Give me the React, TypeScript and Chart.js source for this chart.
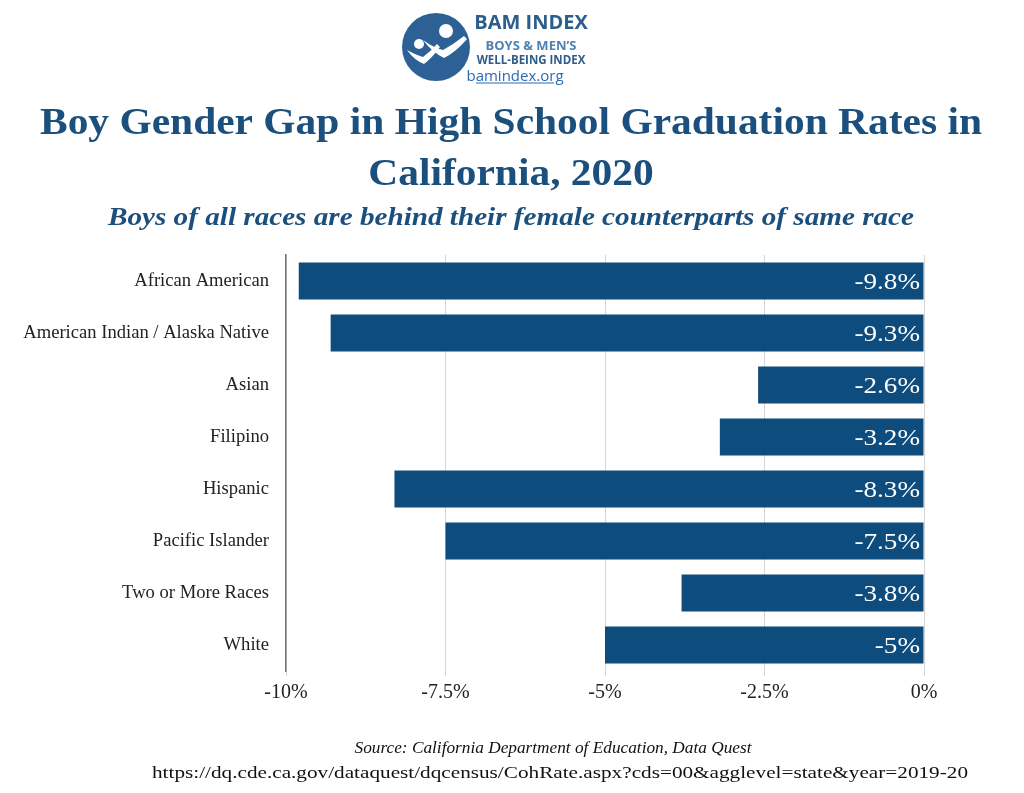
import React, { useEffect, useRef } from "react";
import { Chart, registerables } from "chart.js";

Chart.register(...registerables);

const categories = [
  "African American",
  "American Indian / Alaska Native",
  "Asian",
  "Filipino",
  "Hispanic",
  "Pacific Islander",
  "Two or More Races",
  "White",
];
const values = [-9.8, -9.3, -2.6, -3.2, -8.3, -7.5, -3.8, -5];
const valueLabels = ["-9.8%", "-9.3%", "-2.6%", "-3.2%", "-8.3%", "-7.5%", "-3.8%", "-5%"];
const xMin = -10;
const xMax = 0;
const xStep = 2.5;

const titleLines = ["Boy Gender Gap in High School Graduation Rates in", "California, 2020"];
const subtitleText = "Boys of all races are behind their female counterparts of same race";
const sourceText = "Source: California Department of Education, Data Quest";
const urlText = "https://dq.cde.ca.gov/dataquest/dqcensus/CohRate.aspx?cds=00&agglevel=state&year=2019-20";

const BAR = "#0d4c7d";
const TITLE = "#1b4f7d";
const SERIF = '"Liberation Serif", "DejaVu Serif", serif';

function drawStretched(ctx: any, text: string, cx: number, baseline: number, sx: number, align: "center" | "right" = "center") {
  ctx.save();
  ctx.translate(cx, baseline);
  ctx.scale(sx, 1);
  ctx.textAlign = align;
  ctx.textBaseline = "alphabetic";
  ctx.fillText(text, 0, 0);
  ctx.restore();
}

const textPlugin = {
  id: "texts",
  afterDraw(chart: any) {
    const ctx = chart.ctx;
    ctx.save();
    ctx.fillStyle = TITLE;
    ctx.font = `bold 37px ${SERIF}`;
    const tsx = 942 / ctx.measureText(titleLines[0]).width;
    drawStretched(ctx, titleLines[0], 511, 134, tsx);
    drawStretched(ctx, titleLines[1], 511, 185, tsx);
    ctx.font = `italic bold 25px ${SERIF}`;
    const ssx = 806 / ctx.measureText(subtitleText).width;
    drawStretched(ctx, subtitleText, 511, 225, ssx);
    ctx.fillStyle = "#111";
    ctx.font = `italic 16px ${SERIF}`;
    const srx = 397 / ctx.measureText(sourceText).width;
    drawStretched(ctx, sourceText, 553, 753, srx);
    ctx.font = `17px ${SERIF}`;
    const urx = 816 / ctx.measureText(urlText).width;
    drawStretched(ctx, urlText, 560, 778, urx);

    // value labels inside bar ends
    const meta = chart.getDatasetMeta(0);
    const xs = chart.scales.x;
    ctx.fillStyle = "#ffffff";
    ctx.font = `24px ${SERIF}`;
    meta.data.forEach((bar: any, i: number) => {
      drawStretched(ctx, valueLabels[i], xs.getPixelForValue(0) - 4, bar.y + 8, 1.13, "right");
    });
    ctx.restore();
  },
};

function Logo() {
  return (
    <svg
      width="240"
      height="90"
      style={{ position: "absolute", left: 390, top: 0 }}
      viewBox="0 0 240 90"
    >
      <circle cx="46" cy="47" r="34" fill="#2d6196" />
      <circle cx="29" cy="44" r="5" fill="#fff" />
      <circle cx="56" cy="31" r="7" fill="#fff" />
      <path d="M17 50 Q26 55 33 57 Q40 52 47 44 L50 47 Q42 58 34 64 Q24 60 17 50 Z" fill="#fff" />
      <path d="M33 40 Q44 48 53 50 Q64 44 74 36 L77 39 Q66 52 54 58 Q42 52 33 40 Z" fill="#fff" />
      <text x="141" y="29" textAnchor="middle" fontFamily="'Open Sans', 'DejaVu Sans', sans-serif" fontWeight="bold" fontSize="20" fill="#2c5d8b">BAM INDEX</text>
      <text x="141" y="50" textAnchor="middle" fontFamily="'Open Sans', 'DejaVu Sans', sans-serif" fontWeight="bold" fontSize="13" fill="#4f82b3">BOYS &amp; MEN’S</text>
      <text x="141" y="64" textAnchor="middle" fontFamily="'Open Sans', 'DejaVu Sans', sans-serif" fontWeight="bold" fontSize="11.5" fill="#2c5d8b">WELL-BEING INDEX</text>
      <text x="125" y="81" textAnchor="middle" fontFamily="'Open Sans', 'DejaVu Sans', sans-serif" fontSize="15" fill="#2a6bb0">bamindex.org</text>
      <line x1="86" y1="83" x2="164" y2="83" stroke="#2a6bb0" strokeWidth="1" />
    </svg>
  );
}

export default function App() {
  const ref = useRef<HTMLCanvasElement>(null);
  useEffect(() => {
    if (!ref.current) return;
    const chart = new Chart(ref.current, {
      type: "bar",
      data: {
        labels: categories,
        datasets: [
          {
            data: values,
            backgroundColor: BAR,
            borderWidth: 0,
            barPercentage: 0.71,
            categoryPercentage: 1,
          },
        ],
      },
      options: {
        indexAxis: "y",
        responsive: false,
        animation: false,
        layout: { padding: { top: 255, right: 100, bottom: 82, left: 0 } },
        plugins: {
          legend: { display: false },
          tooltip: { enabled: false },
          title: { display: false },
        },
        scales: {
          x: {
            min: xMin,
            max: xMax,
            afterFit: (s: any) => {
              s.height = 40;
            },
            ticks: {
              stepSize: xStep,
              color: "#222",
              font: { family: SERIF, size: 20 },
              padding: 5,
              callback: (v: any) => `${v}%`,
            },
            grid: { color: "#d4d4d4", lineWidth: 1, tickLength: 5, drawTicks: true },
            border: { display: false },
          },
          y: {
            afterFit: (s: any) => {
              s.width = 286;
            },
            ticks: {
              color: "#222",
              font: { family: SERIF, size: 18.6 },
              padding: 9,
            },
            grid: { display: false },
            border: { display: true, color: "#777", width: 1.5 },
          },
        },
      },
      plugins: [textPlugin],
    });
    return () => chart.destroy();
  }, []);
  return (
    <div style={{ position: "absolute", left: 0, top: 0, width: 1024, height: 793, background: "#fff" }}>
      <canvas ref={ref} width={1024} height={793} style={{ position: "absolute", left: 0, top: 0 }} />
      <Logo />
    </div>
  );
}
